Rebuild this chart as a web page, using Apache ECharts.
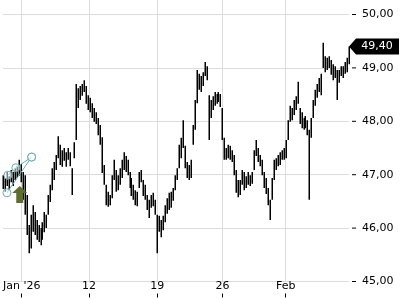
<!DOCTYPE html>
<html><head><meta charset="utf-8">
<script src="https://cdn.jsdelivr.net/npm/echarts@6/dist/echarts.min.js"></script>
<style>html,body{margin:0;padding:0;background:#fff}#c{width:400px;height:300px}</style>
</head><body><div id="c"></div>
<script>
// bar index -> [low, high] price of each intraday bar
const lows = [46.73,46.68,46.79,46.71,46.86,46.79,46.90,46.94,46.98,46.86,
46.53,46.25,45.87,45.53,45.62,45.93,45.87,45.78,45.74,45.68,
45.78,45.92,46.00,46.25,46.49,46.71,46.90,47.09,47.31,47.18,
47.15,47.26,47.15,47.28,47.16,46.62,47.31,47.65,48.25,48.40,
48.48,48.55,48.33,48.21,48.17,48.06,47.99,47.95,47.74,47.56,
47.03,46.81,46.43,46.40,46.43,46.56,46.90,46.68,46.71,46.81,
46.94,47.09,47.05,46.99,46.75,46.60,46.53,46.43,46.41,46.75,
46.86,46.60,46.53,46.34,46.19,46.38,46.41,46.25,45.53,45.93,
45.83,45.96,46.11,46.27,46.34,46.38,46.51,46.71,46.90,47.12,
47.31,47.50,47.12,46.94,46.90,46.94,47.56,47.84,48.34,48.59,
48.55,48.66,48.85,48.77,47.65,48.06,48.21,48.29,48.33,48.36,
48.27,47.65,47.28,47.28,47.31,47.28,47.24,46.99,46.66,46.58,
46.62,46.81,46.71,46.75,46.81,46.79,46.83,47.09,47.35,47.24,
47.16,46.99,46.75,46.64,46.43,46.15,46.53,46.90,47.09,47.16,
47.18,47.28,47.28,47.31,47.65,47.99,48.02,48.12,48.21,48.33,
47.95,47.87,47.84,47.87,47.74,46.53,47.69,48.06,48.29,48.44,
48.55,48.49,49.00,48.92,48.96,49.00,48.87,48.77,48.81,48.40,
48.72,48.85,48.81,48.89,48.92,49.07];
const highs = [46.99,46.94,47.05,46.97,47.09,47.05,47.12,47.16,47.28,47.20,
47.05,46.99,46.62,46.06,46.25,46.43,46.30,46.15,46.06,46.00,
46.11,46.30,46.25,46.62,46.81,47.12,47.24,47.37,47.72,47.56,
47.46,47.50,47.42,47.50,47.42,47.12,47.61,48.70,48.62,48.66,
48.70,48.77,48.66,48.49,48.44,48.34,48.25,48.17,48.06,47.93,
47.70,47.18,46.81,46.68,46.62,46.99,47.28,47.09,46.99,47.12,
47.28,47.42,47.35,47.28,47.05,46.94,46.81,46.71,46.68,47.05,
47.09,46.90,46.81,46.62,46.53,46.62,46.66,46.53,46.25,46.23,
46.15,46.23,46.43,46.56,46.66,46.68,46.75,46.99,47.12,47.56,
47.69,48.02,47.54,47.24,47.18,47.28,47.93,48.40,48.96,48.89,
48.85,48.92,49.11,49.03,48.49,48.40,48.47,48.55,48.51,48.55,
48.51,48.25,47.69,47.50,47.56,47.54,47.46,47.37,47.09,46.90,
46.90,47.09,47.05,46.97,47.05,46.99,47.05,47.46,47.65,47.50,
47.37,47.28,47.05,46.94,46.75,46.53,46.94,47.28,47.31,47.37,
47.42,47.46,47.50,47.65,48.02,48.29,48.25,48.40,48.47,48.74,
48.25,48.17,48.06,48.10,48.02,47.84,48.06,48.40,48.59,48.70,
48.81,48.89,49.47,49.22,49.19,49.22,49.15,49.07,49.03,48.96,
48.96,49.03,49.03,49.11,49.19,49.40];
const xTickIdx = [9.5, 43.5, 78, 111, 143];
const xTickLabels = ["Jan '26", "12", "19", "26", "Feb"];
const yTicks = [45, 46, 47, 48, 49, 50];
const lastPrice = [175, 49.40];
const buySignal = [8.5, 46.63];
const trendA = [[2, 46.66], [14.5, 47.33]];
const trendB = [[2.5, 46.99], [6.5, 47.13], [14.5, 47.33]];

const bars = lows.map((l, i) => [i, l, highs[i]]);
const yTickMarks = yTicks.map(v => [175, v]);
const fmt = v => v.toFixed(2).replace('.', ',');
const FONT = 'DejaVu Sans';

const chart = echarts.init(document.getElementById('c'), null, {renderer: 'canvas'});
chart.setOption({
  animation: false,
  backgroundColor: '#fff',
  grid: {left: 0, right: 51, top: 0, bottom: 18.5},
  xAxis: {
    type: 'value', min: 0, max: 175, offset: 12,
    axisLine: {show: false},
    axisTick: {show: true, customValues: xTickIdx, length: 4, lineStyle: {color: '#000', width: 1}},
    axisLabel: {show: true, customValues: xTickIdx, inside: true, margin: 2,
      color: '#000', fontFamily: FONT, fontSize: 11,
      formatter: v => { const k = xTickIdx.indexOf(v); return k >= 0 ? xTickLabels[k] : ''; }},
    splitLine: {show: true, lineStyle: {color: '#dcdcdc', width: 1}}
  },
  yAxis: {
    type: 'value', position: 'right', min: 45, max: 50.2715, offset: 3,
    axisLine: {show: false},
    axisTick: {show: false, customValues: yTicks},
    axisLabel: {show: true, customValues: yTicks, margin: 10, color: '#000',
      fontFamily: FONT, fontSize: 11, formatter: fmt},
    splitLine: {show: true, lineStyle: {color: '#dcdcdc', width: 1}}
  },
  series: [
    {
      type: 'custom', data: bars, encode: {x: 0, y: [1, 2]}, z: 2,
      renderItem: (params, api) => {
        const x = api.value(0);
        const p1 = api.coord([x, api.value(1)]);
        const p2 = api.coord([x, api.value(2)]);
        const xx = Math.round(p1[0]) + 0.25;
        return {type: 'line', shape: {x1: xx, y1: p1[1], x2: xx, y2: p2[1]},
          style: {stroke: '#000', lineWidth: 1.5}};
      }
    },
    {
      type: 'scatter', data: yTickMarks, z: 3, clip: false, silent: true,
      symbol: 'rect', symbolSize: [4, 1], symbolOffset: [5, 0],
      itemStyle: {color: '#000', opacity: 1}
    },
    {
      type: 'scatter', data: [buySignal], z: 5, clip: false,
      symbol: 'path://M7.5,0L15,7L11,7L11,17L4,17L4,7L0,7Z', symbolSize: [15, 17],
      itemStyle: {color: '#5c6d2c', opacity: 1}
    },
    {
      type: 'line', data: trendA, z: 6, symbol: 'circle', symbolSize: 8, showSymbol: true,
      lineStyle: {color: '#6aaeb6', width: 1},
      itemStyle: {color: 'rgba(255,255,255,0.5)', borderColor: '#6aaeb6', borderWidth: 1}
    },
    {
      type: 'line', data: trendB, z: 6, symbol: 'circle', symbolSize: 8, showSymbol: true,
      lineStyle: {color: '#6aaeb6', width: 1},
      itemStyle: {color: 'rgba(255,255,255,0.5)', borderColor: '#6aaeb6', borderWidth: 1}
    },
    {
      type: 'scatter', data: [lastPrice], z: 10, clip: false,
      symbol: 'path://M0,8L7,0L50,0L50,16L7,16Z', symbolSize: [50, 16], symbolOffset: [25, 0],
      itemStyle: {color: '#000', opacity: 1},
      label: {show: true, position: 'inside', offset: [3, 0], color: '#fff',
        fontFamily: FONT, fontSize: 11, formatter: p => fmt(p.value[1])}
    }
  ]
});
</script></body></html>
